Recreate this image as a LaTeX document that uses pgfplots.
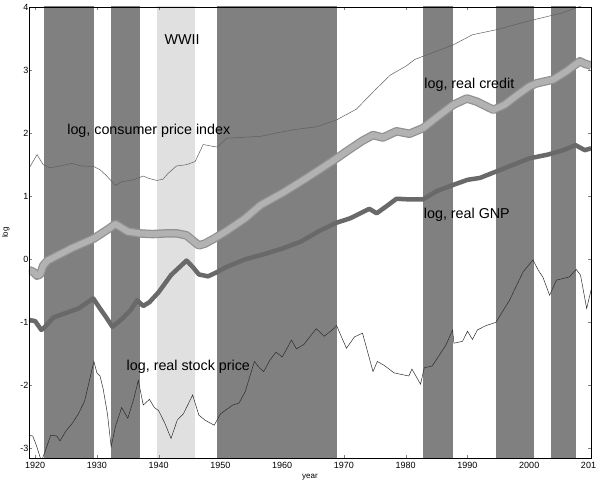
\documentclass[border=0pt]{standalone}
\usepackage{pgfplots}
\pgfplotsset{compat=1.18}
\usepackage{fontspec}
\setmainfont{Liberation Sans}

\definecolor{band}{RGB}{128,128,128}
\definecolor{wwii}{RGB}{224,224,224}
\definecolor{cpicol}{RGB}{95,95,95}
\definecolor{credcol}{RGB}{178,178,178}
\definecolor{crededge}{RGB}{145,145,145}
\definecolor{gnpcol}{RGB}{105,105,105}
\definecolor{stockcol}{RGB}{45,45,45}

\begin{document}
\begin{tikzpicture}
\begin{axis}[
  scale only axis=true,
  width=562pt, height=451pt,
  xmin=1919, xmax=2010,
  ymin=-3.15, ymax=4,
  xtick={1920,1930,...,2010},
  ytick={-3,-2,...,4},
  tick align=inside,
  major tick length=3pt,
  xticklabel style={font=\fontsize{9}{10}\selectfont, yshift=-1pt},
  yticklabel style={font=\fontsize{9}{10}\selectfont, xshift=3pt},
  /pgf/number format/assume math mode=true,
  /pgf/number format/1000 sep={},
  xlabel={year}, ylabel={log},
  xlabel style={font=\fontsize{8}{9}\selectfont, yshift=2pt},
  ylabel style={font=\fontsize{8}{9}\selectfont, yshift=4pt},
  axis on top=true,
  clip=true,
]
% shaded periods
\addplot[fill=band, draw=none] coordinates {(1921.5,-4) (1921.5,5) (1929.5,5) (1929.5,-4)} -- cycle;
\addplot[fill=band, draw=none] coordinates {(1932.3,-4) (1932.3,5) (1937.0,5) (1937.0,-4)} -- cycle;
\addplot[fill=wwii, draw=none] coordinates {(1939.8,-4) (1939.8,5) (1945.9,5) (1945.9,-4)} -- cycle;
\addplot[fill=band, draw=none] coordinates {(1949.4,-4) (1949.4,5) (1968.8,5) (1968.8,-4)} -- cycle;
\addplot[fill=band, draw=none] coordinates {(1982.8,-4) (1982.8,5) (1987.7,5) (1987.7,-4)} -- cycle;
\addplot[fill=band, draw=none] coordinates {(1994.6,-4) (1994.6,5) (2000.8,5) (2000.8,-4)} -- cycle;
\addplot[fill=band, draw=none] coordinates {(2003.5,-4) (2003.5,5) (2007.6,5) (2007.6,-4)} -- cycle;

% log, consumer price index
\addplot[cpicol, line width=0.5pt] coordinates {
(1919,1.44) (1920.3,1.66) (1921.3,1.50) (1922.4,1.45) (1924,1.48) (1925.9,1.52)
(1927.5,1.48) (1929.5,1.47) (1930.5,1.42) (1931.5,1.33) (1933,1.17) (1934,1.23)
(1935.9,1.26) (1937.5,1.32) (1938.5,1.28) (1939.7,1.25) (1940.7,1.27) (1941.5,1.36)
(1942.9,1.48) (1944.5,1.50) (1945.9,1.55) (1947.2,1.82) (1948.8,1.79) (1949.5,1.78)
(1951,1.92) (1953,1.93) (1956.5,1.95) (1960,2.02) (1962.3,2.06) (1965.5,2.10)
(1968.8,2.21) (1972,2.38) (1973,2.48) (1975.3,2.71) (1977.5,2.92) (1980,3.06)
(1981.5,3.17) (1985,3.30) (1987.7,3.40) (1990.8,3.56) (1994.7,3.64) (2000,3.78)
(2005.5,3.91) (2008.5,4.02) (2010,4.05)
};

% log, real credit
\addplot[crededge, line width=8.5pt, line join=round] coordinates {
(1919,-0.17) (1919.7,-0.20) (1920.3,-0.26) (1920.8,-0.24) (1921.3,-0.10) (1922,-0.02)
(1924,0.08) (1926,0.18) (1929.5,0.33) (1932,0.49) (1933,0.56) (1934,0.50)
(1935,0.44) (1937,0.41) (1939,0.40) (1941,0.41) (1943,0.41) (1944.5,0.38)
(1945.5,0.30) (1946.5,0.22) (1947.5,0.25) (1949,0.33) (1951,0.45) (1954,0.65)
(1956.5,0.86) (1960,1.05) (1963,1.23) (1966,1.42) (1968.8,1.60) (1971,1.75)
(1973,1.88) (1974.7,1.97) (1976.3,1.93) (1978.5,2.03) (1980.6,1.99) (1982.8,2.08)
(1985,2.25) (1987.7,2.45) (1989.9,2.55) (1991.5,2.50) (1994.2,2.37) (1996,2.45)
(1998,2.60) (2000,2.74) (2001.2,2.79) (2003.9,2.85) (2006,2.98) (2008.2,3.14)
(2009,3.10) (2010,3.07)
};
\addplot[credcol, line width=6pt, line join=round] coordinates {
(1919,-0.17) (1919.7,-0.20) (1920.3,-0.26) (1920.8,-0.24) (1921.3,-0.10) (1922,-0.02)
(1924,0.08) (1926,0.18) (1929.5,0.33) (1932,0.49) (1933,0.56) (1934,0.50)
(1935,0.44) (1937,0.41) (1939,0.40) (1941,0.41) (1943,0.41) (1944.5,0.38)
(1945.5,0.30) (1946.5,0.22) (1947.5,0.25) (1949,0.33) (1951,0.45) (1954,0.65)
(1956.5,0.86) (1960,1.05) (1963,1.23) (1966,1.42) (1968.8,1.60) (1971,1.75)
(1973,1.88) (1974.7,1.97) (1976.3,1.93) (1978.5,2.03) (1980.6,1.99) (1982.8,2.08)
(1985,2.25) (1987.7,2.45) (1989.9,2.55) (1991.5,2.50) (1994.2,2.37) (1996,2.45)
(1998,2.60) (2000,2.74) (2001.2,2.79) (2003.9,2.85) (2006,2.98) (2008.2,3.14)
(2009,3.10) (2010,3.07)
};

% log, real GNP
\addplot[gnpcol, line width=4.5pt, line join=round] coordinates {
(1919,-0.96) (1920,-0.98) (1921,-1.12) (1921.5,-1.08) (1923,-0.92) (1925,-0.85)
(1927,-0.78) (1929.4,-0.62) (1930.5,-0.78) (1931.5,-0.92) (1932.5,-1.07) (1934,-0.95)
(1935.5,-0.80) (1936.5,-0.65) (1937.5,-0.74) (1938.5,-0.68) (1940,-0.52) (1942,-0.25)
(1944.5,-0.02) (1945.5,-0.12) (1946.5,-0.24) (1948,-0.27) (1949.3,-0.21) (1951,-0.12)
(1954,0.00) (1957,0.08) (1960,0.17) (1963,0.28) (1966,0.45) (1968.8,0.58)
(1971,0.65) (1974.1,0.80) (1975.3,0.73) (1977,0.85) (1978.5,0.96) (1980.5,0.95)
(1982.8,0.95) (1985,1.08) (1987.7,1.18) (1990,1.26) (1992,1.29) (1994.6,1.39)
(2000,1.60) (2003,1.66) (2005.5,1.73) (2007.5,1.81) (2009,1.73) (2010,1.76)
};

% log, real stock price
\addplot[stockcol, line width=0.5pt] coordinates {
(1919,-2.79) (1919.6,-2.80) (1920.2,-2.95) (1921,-3.20) (1921.6,-3.05) (1922.5,-2.79)
(1923.5,-2.80) (1924,-2.88) (1925,-2.72) (1926,-2.60) (1927,-2.45) (1928,-2.25)
(1929.5,-1.62) (1930,-1.80) (1930.5,-1.85) (1931,-2.05) (1931.7,-2.45) (1932.3,-2.97)
(1933,-2.65) (1934,-2.35) (1935,-2.52) (1936,-2.20) (1936.7,-1.92) (1937.5,-2.31)
(1938.5,-2.22) (1939.3,-2.35) (1940,-2.40) (1941,-2.60) (1942,-2.84) (1943,-2.55)
(1944,-2.45) (1945.5,-2.15) (1946.5,-2.47) (1947.5,-2.55) (1949,-2.63) (1950,-2.45)
(1952,-2.31) (1953,-2.28) (1954,-2.10) (1955.5,-1.62) (1956.3,-1.72) (1957,-1.78)
(1958,-1.60) (1959,-1.47) (1960,-1.55) (1961.5,-1.28) (1962.3,-1.42) (1963.5,-1.35)
(1965.5,-1.10) (1966.8,-1.22) (1968.1,-1.12) (1968.8,-1.05) (1970.4,-1.41) (1971.7,-1.23)
(1973,-1.17) (1974.7,-1.78) (1975.4,-1.62) (1976.5,-1.68) (1978.1,-1.80) (1980.5,-1.85)
(1981,-1.74) (1982.4,-1.98) (1983,-1.72) (1984.3,-1.69) (1986.5,-1.36) (1987.6,-1.12)
(1987.8,-1.33) (1989.2,-1.30) (1990,-1.14) (1990.8,-1.27) (1991.6,-1.12) (1993,-1.05)
(1994.6,-1.00) (1996.8,-0.65) (1999,-0.20) (2000.6,-0.01) (2001.5,-0.18) (2002.2,-0.28)
(2003.3,-0.57) (2004.4,-0.33) (2006.5,-0.28) (2007.6,-0.16) (2008.3,-0.25) (2009.3,-0.78)
(2010,-0.49)
};

\node[font=\fontsize{14.3}{16}\selectfont] at (axis cs:1943.8,3.48) {WWII};
\node[font=\fontsize{14.3}{16}\selectfont] at (axis cs:1938.4,2.03) {log, consumer price index};
\node[font=\fontsize{14.3}{16}\selectfont] at (axis cs:1990.3,2.76) {log, real credit};
\node[font=\fontsize{14.3}{16}\selectfont] at (axis cs:1989.9,0.71) {log, real GNP};
\node[font=\fontsize{14.3}{16}\selectfont] at (axis cs:1944.8,-1.70) {log, real stock price};
\end{axis}
\pgfresetboundingbox
\path[use as bounding box] ([xshift=-29pt,yshift=-29pt]current axis.south west) rectangle ([xshift=5pt,yshift=7pt]current axis.north east);
\end{tikzpicture}
\end{document}
